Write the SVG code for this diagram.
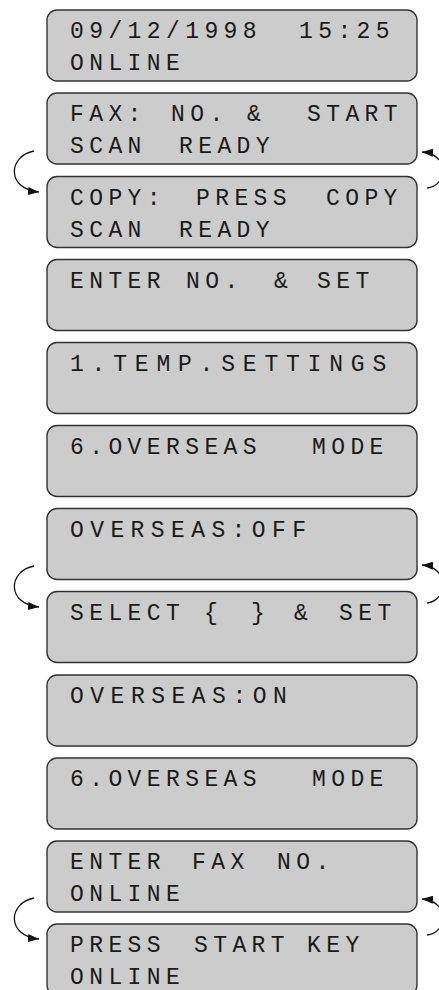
<svg xmlns="http://www.w3.org/2000/svg" width="439" height="990" viewBox="0 0 439 990">
<style>
.box{fill:#cccccc;stroke:#333333;stroke-width:1.4}
.t{font-family:"Liberation Mono","Courier New",monospace;font-size:23px;letter-spacing:5.4px;fill:#1a1a1a}
.c{fill:none;stroke:#111111;stroke-width:1.3}
</style>
<defs>
<marker id="ah" markerUnits="userSpaceOnUse" markerWidth="12" markerHeight="8" refX="11" refY="4" orient="auto">
<path d="M0,0 L11,4 L0,8 z" fill="#111111"/>
</marker>
</defs>
<g id="n1" transform="translate(0,10)"><rect class="box" x="47" y="0" width="370" height="71" rx="10"/><text class="t" y="28"><tspan x="70">09/12/1998</tspan><tspan x="299">15:25</tspan></text><text class="t" x="70" y="60">ONLINE</text></g>
<g id="n2" transform="translate(0,93)"><rect class="box" x="47" y="0" width="370" height="71" rx="10"/><text class="t" y="28"><tspan x="70">FAX:</tspan><tspan x="171">NO.</tspan><tspan x="247">&amp;</tspan><tspan x="307">START</tspan></text><text class="t" y="60"><tspan x="70">SCAN</tspan><tspan x="179">READY</tspan></text></g>
<g id="n3" transform="translate(0,176.5)"><rect class="box" x="47" y="0" width="370" height="71" rx="10"/><text class="t" y="28"><tspan x="70">COPY:</tspan><tspan x="196">PRESS</tspan><tspan x="326">COPY</tspan></text><text class="t" y="60"><tspan x="70">SCAN</tspan><tspan x="179">READY</tspan></text></g>
<g id="n4" transform="translate(0,259.5)"><rect class="box" x="47" y="0" width="370" height="71" rx="10"/><text class="t" y="28"><tspan x="70">ENTER</tspan><tspan x="186">NO.</tspan><tspan x="274">&amp;</tspan><tspan x="317">SET</tspan></text></g>
<g id="n5" transform="translate(0,342.5)"><rect class="box" x="47" y="0" width="370" height="71" rx="10"/><text class="t" x="70" y="28" style="letter-spacing:7.8px">1.TEMP.SETTINGS</text></g>
<g id="n6" transform="translate(0,425.5)"><rect class="box" x="47" y="0" width="370" height="71" rx="10"/><text class="t" y="28"><tspan x="70">6.OVERSEAS</tspan><tspan x="312">MODE</tspan></text></g>
<g id="n7" transform="translate(0,508.5)"><rect class="box" x="47" y="0" width="370" height="71" rx="10"/><text class="t" x="70" y="28" style="letter-spacing:6.4px">OVERSEAS:OFF</text></g>
<g id="n8" transform="translate(0,591.5)"><rect class="box" x="47" y="0" width="370" height="71" rx="10"/><text class="t" y="28"><tspan x="70">SELECT</tspan><tspan x="204">{</tspan><tspan x="251">}</tspan><tspan x="294">&amp;</tspan><tspan x="339">SET</tspan></text></g>
<g id="n9" transform="translate(0,675)"><rect class="box" x="47" y="0" width="370" height="71" rx="10"/><text class="t" x="70" y="28" style="letter-spacing:6.5px">OVERSEAS:ON</text></g>
<g id="n10" transform="translate(0,758)"><rect class="box" x="47" y="0" width="370" height="71" rx="10"/><text class="t" y="28"><tspan x="70">6.OVERSEAS</tspan><tspan x="312">MODE</tspan></text></g>
<g id="n11" transform="translate(0,841)"><rect class="box" x="47" y="0" width="370" height="71" rx="10"/><text class="t" y="28"><tspan x="70">ENTER</tspan><tspan x="192">FAX</tspan><tspan x="277">NO.</tspan></text><text class="t" x="70" y="60">ONLINE</text></g>
<g id="n12" transform="translate(0,924)"><rect class="box" x="47" y="0" width="370" height="71" rx="10"/><text class="t" y="28"><tspan x="70">PRESS</tspan><tspan x="194">START</tspan><tspan x="307">KEY</tspan></text><text class="t" x="70" y="60">ONLINE</text></g>
<g id="connectors">
<path class="c" marker-end="url(#ah)" d="M34,151 C8,156 6,189 39,192"/>
<path class="c" marker-end="url(#ah)" d="M427,188 C448,186 450,154 422,152"/>
<path class="c" marker-end="url(#ah)" d="M34,566 C8,571 6,604 39,607"/>
<path class="c" marker-end="url(#ah)" d="M427,603 C448,601 450,567 422,565"/>
<path class="c" marker-end="url(#ah)" d="M34,898 C8,903 6,936 39,939"/>
<path class="c" marker-end="url(#ah)" d="M427,935 C448,933 450,901 422,899"/>
</g>
</svg>
